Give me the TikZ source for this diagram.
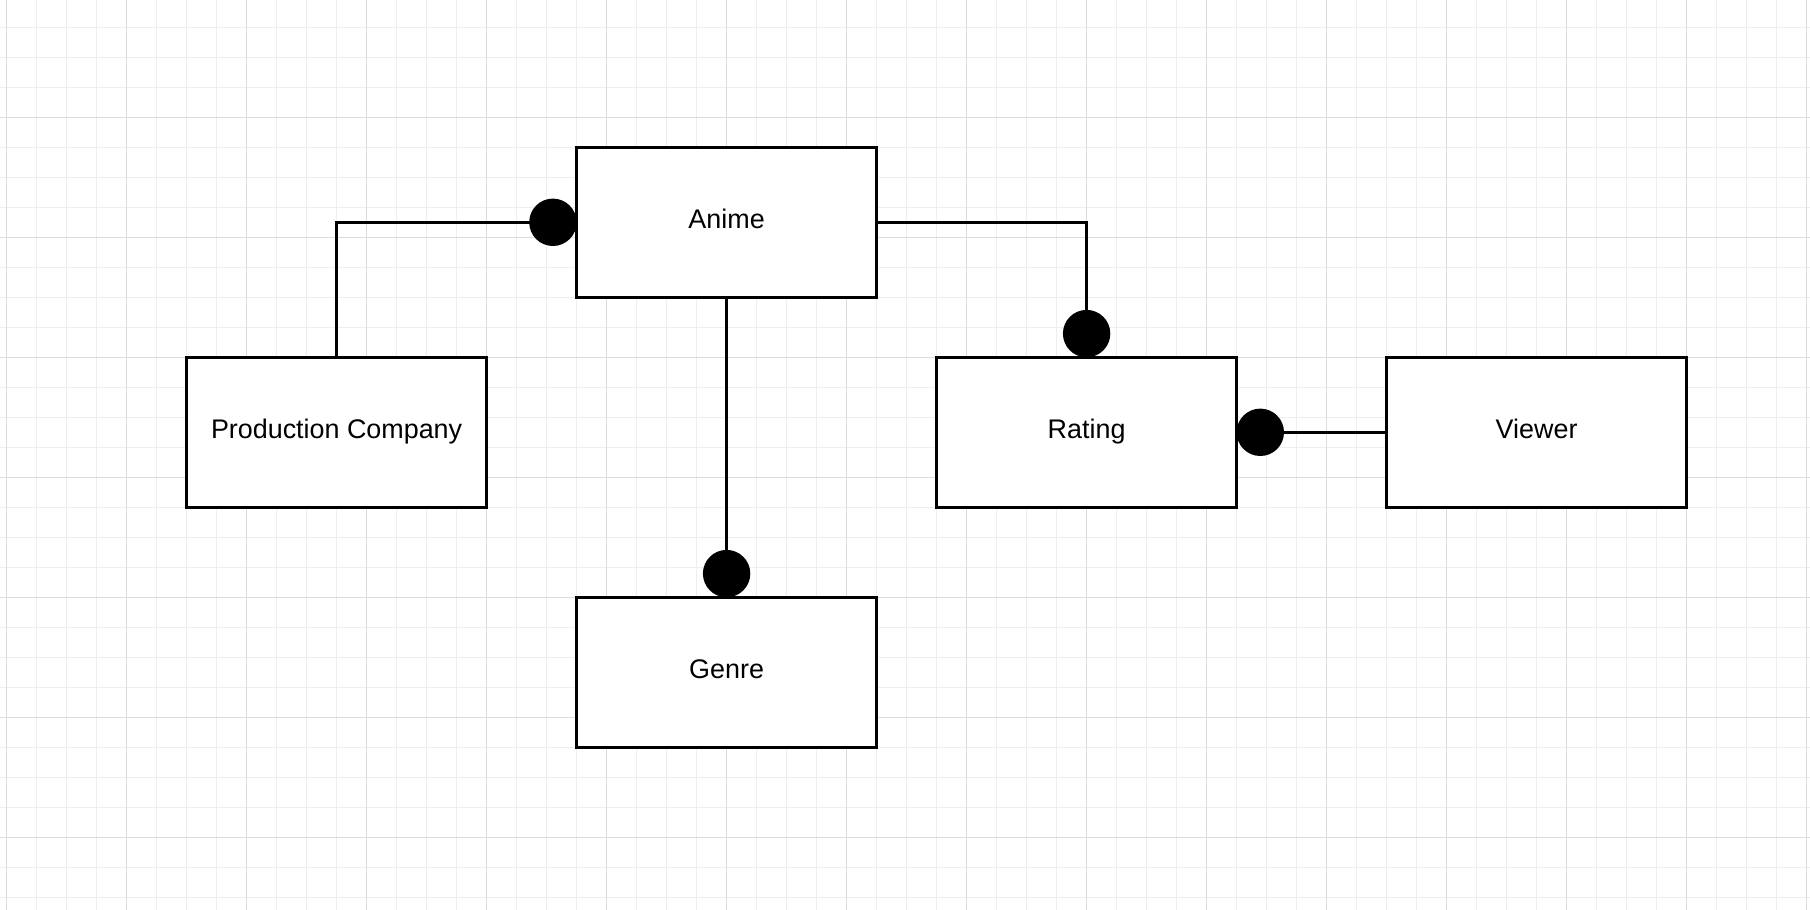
\documentclass[tikz,border=0pt]{standalone}
\usepackage{fontspec}
\setmainfont{Liberation Sans}
\definecolor{gridminor}{HTML}{EEEEEE}
\definecolor{gridmajor}{HTML}{DCDCDC}
\begin{document}
\begin{tikzpicture}[x=0.5pt,y=-0.5pt,
  entity/.style={draw=black, line width=1.35pt, fill=white, minimum width=150pt, minimum height=75pt, inner sep=0pt, outer sep=0pt,
    font=\fontsize{13.45pt}{16pt}\selectfont, text height=9.4pt, text depth=3.7pt},
  conn/.style={draw=black, line width=1.35pt},
  dot/.style={circle, fill=black, draw=none, minimum size=23.7pt, inner sep=0pt, outer sep=0pt},
  minorline/.style={draw=gridminor, line width=0.5pt},
  majorline/.style={draw=gridmajor, line width=0.5pt}
]
\useasboundingbox (0,0) rectangle (1810,910);
\fill[white] (0,0) rectangle (1810,910);
% grid
\foreach \i in {0,...,60} \draw[minorline] (6.6+30*\i,0) -- (6.6+30*\i,910);
\foreach \j in {0,...,29} \draw[minorline] (0,27.3+30*\j) -- (1810,27.3+30*\j);
\foreach \i in {0,...,15} \draw[majorline] (6.6+120*\i,0) -- (6.6+120*\i,910);
\foreach \j in {0,...,6} \draw[majorline] (0,117.3+120*\j) -- (1810,117.3+120*\j);
% entities
\node[entity] (anime)  at (726.6,222.3) {Anime};
\node[entity] (prod)   at (336.6,432.3) {Production Company};
\node[entity] (rating) at (1086.6,432.3) {Rating};
\node[entity] (viewer) at (1536.6,432.3) {Viewer};
\node[entity] (genre)  at (726.6,672.3) {Genre};
% dots
\node[dot, anchor=east]  (d1) at (anime.west) {};
\node[dot, anchor=south] (d2) at (rating.north) {};
\node[dot, anchor=south] (d3) at (genre.north) {};
\node[dot, anchor=west]  (d4) at (rating.east) {};
% connectors
\draw[conn] (prod.north) |- (d1.center);
\draw[conn] (anime.east) -| (d2.center);
\draw[conn] (anime.south) -- (d3.center);
\draw[conn] (viewer.west) -- (d4.center);
\end{tikzpicture}
\end{document}
